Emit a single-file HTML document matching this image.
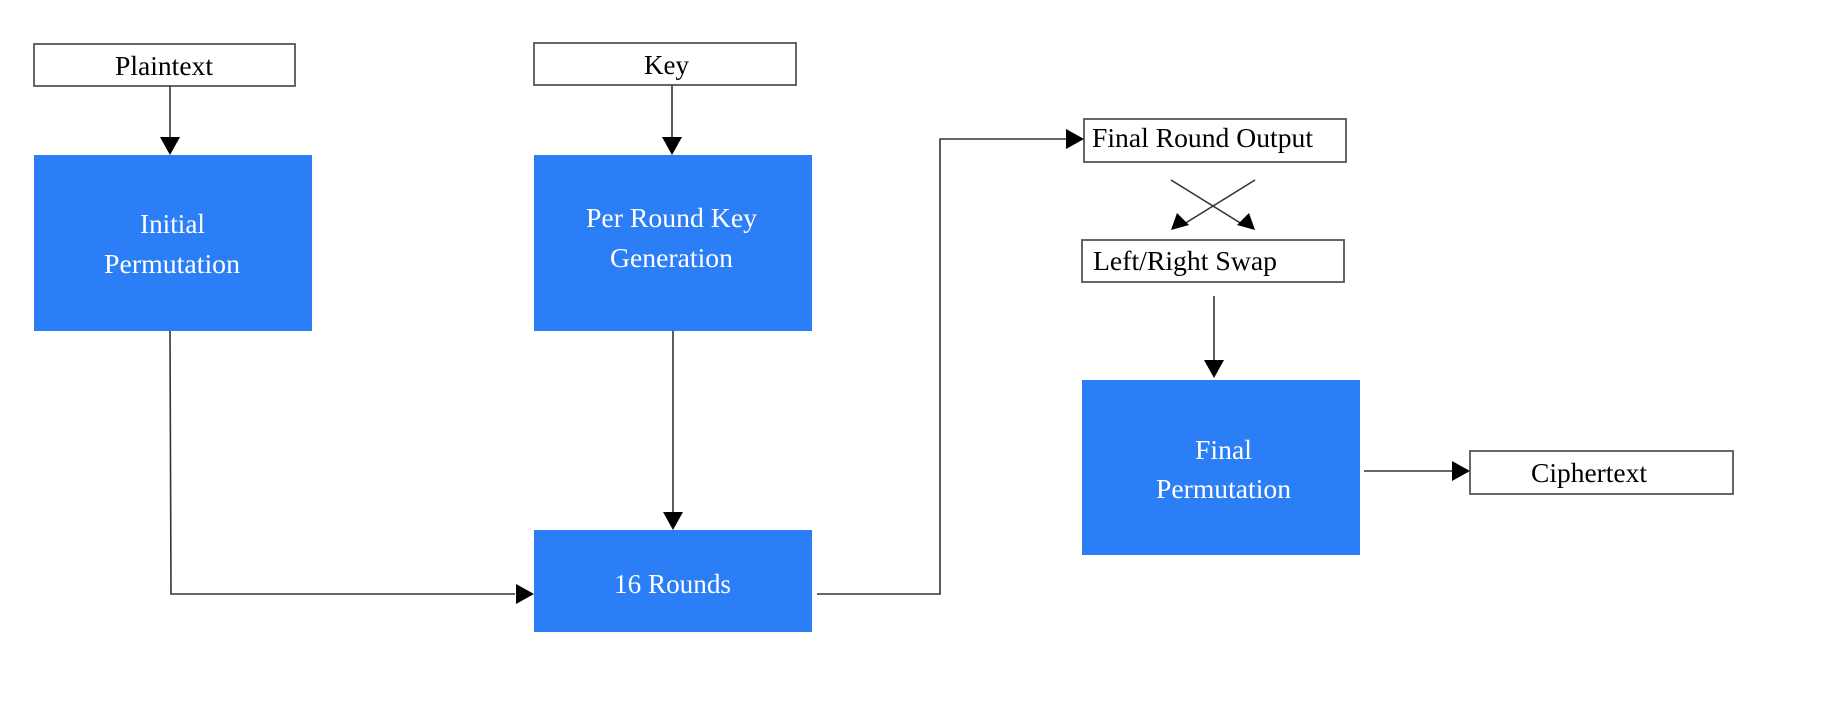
<!DOCTYPE html>
<html><head><meta charset="utf-8"><style>html,body{margin:0;padding:0;background:#fff;overflow:hidden}svg{display:block}</style></head>
<body>
<svg width="1824" height="728" viewBox="0 0 1824 728" xmlns="http://www.w3.org/2000/svg" font-family="Liberation Serif, serif" font-size="27">
<g fill="none" stroke="#555" stroke-width="1.8">
<rect x="34" y="44" width="261" height="42" fill="#fff"/>
<rect x="534" y="43" width="262" height="42" fill="#fff"/>
<rect x="1084" y="119" width="262" height="43" fill="#fff"/>
<rect x="1082" y="240" width="262" height="42" fill="#fff"/>
<rect x="1470" y="451" width="263" height="43" fill="#fff"/>
</g>
<g fill="#2b7ef5">
<rect x="34" y="155" width="278" height="176"/>
<rect x="534" y="155" width="278" height="176"/>
<rect x="534" y="530" width="278" height="102"/>
<rect x="1082" y="380" width="278" height="175"/>
</g>
<g stroke="#333" stroke-width="1.6" fill="none">
<line x1="170" y1="86" x2="170" y2="140"/>
<path d="M170,155 l-10,-18 h20 z" fill="#000" stroke="none"/>
<line x1="672" y1="85" x2="672" y2="140"/>
<path d="M672,155 l-10,-18 h20 z" fill="#000" stroke="none"/>
<line x1="673" y1="331" x2="673" y2="515"/>
<path d="M673,530 l-10,-18 h20 z" fill="#000" stroke="none"/>
<polyline points="170,331 171,594 515,594"/>
<path d="M534,594 l-18,-10 v20 z" fill="#000" stroke="none"/>
<polyline points="817,594 940,594 940,139 1066,139"/>
<path d="M1084,139 l-18,-10 v20 z" fill="#000" stroke="none"/>
<line x1="1171" y1="180" x2="1242" y2="224"/>
<line x1="1255" y1="180" x2="1184" y2="224"/>
<path d="M1171,230 l6,-17 l12,12 z" fill="#000" stroke="none"/>
<path d="M1255,230 l-6,-17 l-12,12 z" fill="#000" stroke="none"/>
<line x1="1214" y1="296" x2="1214" y2="362"/>
<path d="M1214,378 l-10,-18 h20 z" fill="#000" stroke="none"/>
<line x1="1364" y1="471" x2="1452" y2="471"/>
<path d="M1470,471 l-18,-10 v20 z" fill="#000" stroke="none"/>
</g>
<g fill="#000" dominant-baseline="central">
<text x="115" y="66" textLength="98" lengthAdjust="spacingAndGlyphs">Plaintext</text>
<text x="644" y="65" textLength="45" lengthAdjust="spacingAndGlyphs">Key</text>
<text x="1092" y="138" textLength="221" lengthAdjust="spacingAndGlyphs">Final Round Output</text>
<text x="1093" y="261" textLength="184" lengthAdjust="spacingAndGlyphs">Left/Right Swap</text>
<text x="1531" y="473" textLength="116" lengthAdjust="spacingAndGlyphs">Ciphertext</text>
</g>
<g fill="#fff" dominant-baseline="central">
<text x="140" y="224" textLength="65" lengthAdjust="spacingAndGlyphs">Initial</text>
<text x="104" y="264" textLength="136" lengthAdjust="spacingAndGlyphs">Permutation</text>
<text x="586" y="218" textLength="171" lengthAdjust="spacingAndGlyphs">Per Round Key</text>
<text x="610" y="258" textLength="123" lengthAdjust="spacingAndGlyphs">Generation</text>
<text x="614" y="584" textLength="117" lengthAdjust="spacingAndGlyphs">16 Rounds</text>
<text x="1195" y="450" textLength="57" lengthAdjust="spacingAndGlyphs">Final</text>
<text x="1156" y="489" textLength="135" lengthAdjust="spacingAndGlyphs">Permutation</text>
</g>
</svg>
</body></html>
